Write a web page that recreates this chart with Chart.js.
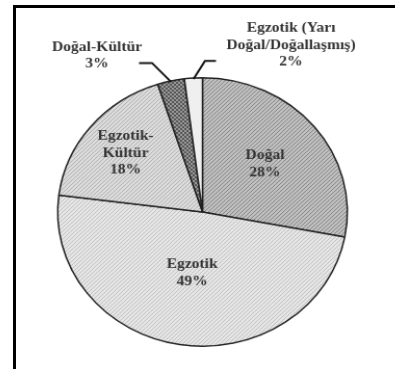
<!DOCTYPE html>
<html>
<head>
<meta charset="utf-8">
<script src="https://cdn.jsdelivr.net/npm/chart.js@4.4.1/dist/chart.umd.min.js"></script>
<style>
    html, body { margin: 0; padding: 0; background: #fff; }
    #wrap { position: relative; width: 395px; height: 369px; overflow: hidden; }
    #frame {
        position: absolute; left: 13px; top: 5px; right: -10px; bottom: -10px;
        border-left: 3px solid #000; border-top: 3px solid #000;
    }
    /* the source pie is slightly oval */
    canvas {
        position: absolute; left: 0; top: 0;
        transform-origin: 202.5px 212px;
        transform: scale(1.04, 0.964);
    }
</style>
</head>
<body>
<div id="wrap">
    <div id="frame"></div>
    <canvas id="pie" width="395" height="369"></canvas>
</div>
<script>
// slices, clockwise from 12 o'clock
const categories = ['Doğal', 'Egzotik', 'Egzotik-Kültür', 'Doğal-Kültür', 'Egzotik (Yarı Doğal/Doğallaşmış)'];
const shares = [28, 49, 18, 3, 2];
// how each label is broken into lines
const labelLines = [
    ['Doğal', '28%'],
    ['Egzotik', '49%'],
    ['Egzotik-', 'Kültür', '18%'],
    ['Doğal-Kültür', '3%'],
    ['Egzotik (Yarı', 'Doğal/Doğallaşmış)', '2%'],
];

const FONT = 'bold 15px "Liberation Serif", "Times New Roman", serif';
const SX = 1.04, SY = 0.964, OX = 202.5, OY = 212;
const LINE_H = 17.5;

// page position -> canvas position (undo the css scale)
function toCanvas(x, y) {
    return [OX + (x - OX) / SX, OY + (y - OY) / SY];
}

function hatch(base, line, cross) {
    const c = document.createElement('canvas');
    c.width = 4; c.height = 4;
    const g = c.getContext('2d');
    g.fillStyle = base;
    g.fillRect(0, 0, 4, 4);
    g.strokeStyle = line;
    g.lineWidth = 1;
    g.beginPath();
    g.moveTo(-1, 5); g.lineTo(5, -1);
    g.moveTo(-1, 1); g.lineTo(1, -1);
    g.moveTo(3, 5); g.lineTo(5, 3);
    if (cross) {
        g.moveTo(-1, -1); g.lineTo(5, 5);
    }
    g.stroke();
    return g.createPattern(c, 'repeat');
}

const ctx = document.getElementById('pie').getContext('2d');
const fills = [
    hatch('#c0c0c0', '#858585', false),
    hatch('#e6e6e6', '#c0c0c0', false),
    hatch('#dcdcdc', '#b0b0b0', false),
    hatch('#9a9a9a', '#555555', true),
    '#efefef',
];

// inside labels: fraction of radius; outside labels: leader elbow + text anchor (page coords)
const insideRadius = [0.56, 0.46, 0.69];
const outside = {
    3: { elbow: [152, 63], end: [139, 63], text: [97, 47] },
    4: { elbow: [205, 61], end: [216, 61], text: [291, 28] },
};

const labelPlugin = {
    id: 'sliceLabels',
    afterDatasetsDraw(chart) {
        const c = chart.ctx;
        const arcs = chart.getDatasetMeta(0).data;
        c.save();
        c.font = FONT;
        c.fillStyle = '#333';
        c.textAlign = 'center';
        c.textBaseline = 'middle';
        arcs.forEach((arc, i) => {
            const lines = labelLines[i];
            const mid = (arc.startAngle + arc.endAngle) / 2;
            if (i < insideRadius.length) {
                const r = arc.outerRadius * insideRadius[i];
                const x = arc.x + Math.cos(mid) * r;
                const y = arc.y + Math.sin(mid) * r;
                const top = y - (lines.length - 1) * LINE_H / 2;
                lines.forEach((t, k) => c.fillText(t, x, top + k * LINE_H));
            } else {
                const o = outside[i];
                const ex = arc.x + Math.cos(mid) * (arc.outerRadius - 1);
                const ey = arc.y + Math.sin(mid) * (arc.outerRadius - 1);
                const el = toCanvas(o.elbow[0], o.elbow[1]);
                const en = toCanvas(o.end[0], o.end[1]);
                c.strokeStyle = '#111';
                c.lineWidth = 2;
                c.beginPath();
                c.moveTo(ex, ey);
                c.lineTo(el[0], el[1]);
                c.lineTo(en[0], en[1]);
                c.stroke();
                const tp = toCanvas(o.text[0], o.text[1]);
                lines.forEach((t, k) => c.fillText(t, tp[0], tp[1] + k * LINE_H));
            }
        });
        c.restore();
    },
};

new Chart(ctx, {
    type: 'pie',
    data: {
        labels: categories,
        datasets: [{
            data: shares,
            backgroundColor: fills,
            borderColor: '#222',
            borderWidth: 1.5,
        }],
    },
    options: {
        responsive: false,
        animation: false,
        layout: { padding: { top: 72, bottom: 17, left: 10, right: 0 } },
        plugins: {
            legend: { display: false },
            tooltip: { enabled: false },
        },
    },
    plugins: [labelPlugin],
});
</script>
</body>
</html>
